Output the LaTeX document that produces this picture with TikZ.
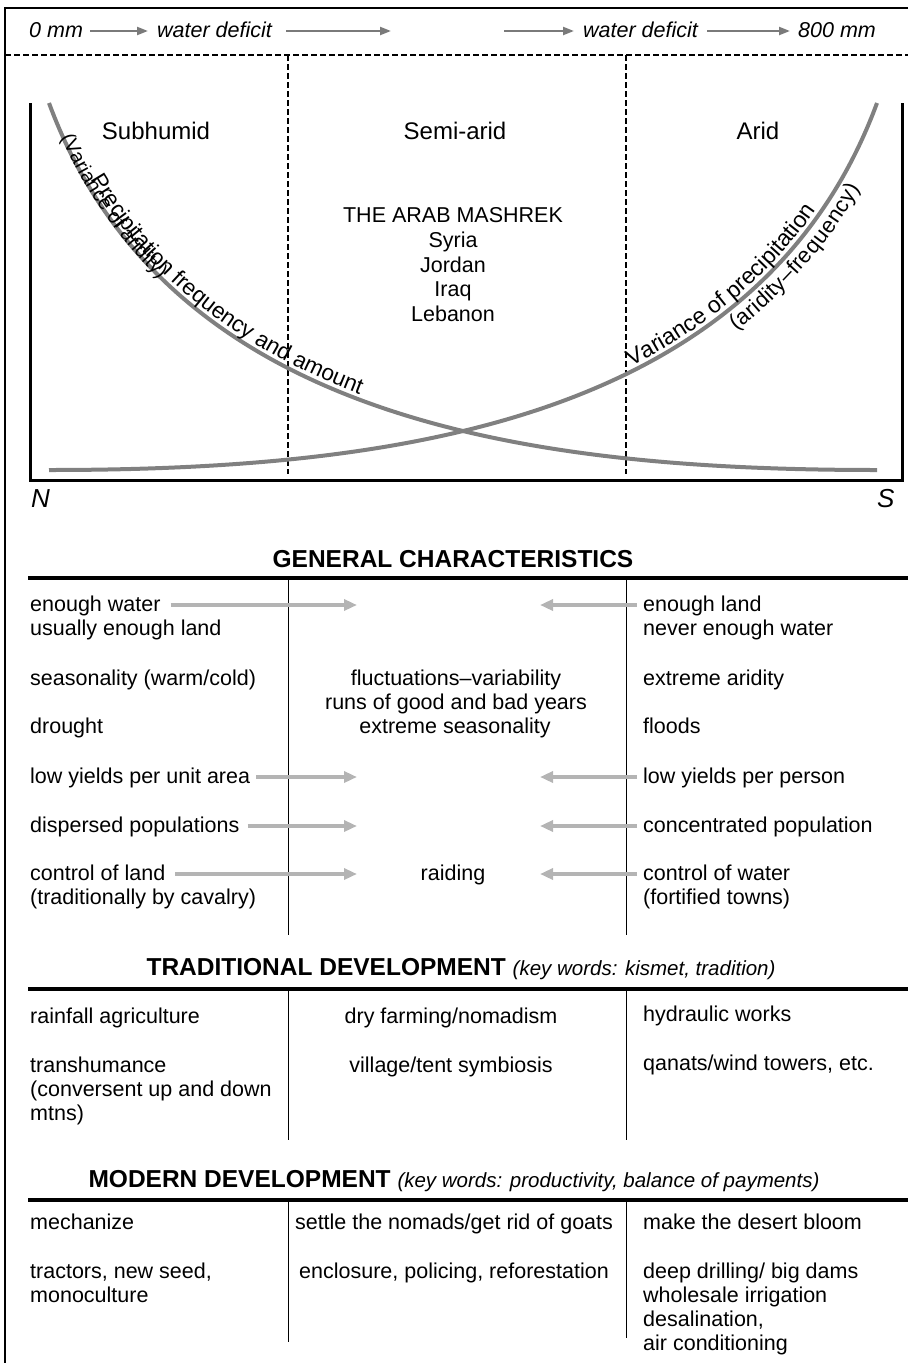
\documentclass[tikz,border=0pt]{standalone}
\usepackage{fontspec}
\setmainfont{Liberation Sans}
\usetikzlibrary{arrows.meta,decorations.text}
\definecolor{curvegray}{HTML}{808080}
\definecolor{arrgray}{HTML}{B4B4B4}
\definecolor{topgray}{HTML}{7A7A7A}
\begin{document}
\begin{tikzpicture}[x=1pt,y=-1pt,
  txt/.style={font=\fontsize{21.5}{25}\selectfont, inner sep=0pt, text height=16pt, text depth=4pt},
  lft/.style={txt, anchor=west},
  ctr/.style={txt, anchor=center},
  zone/.style={font=\fontsize{24}{28}\selectfont, inner sep=0pt, anchor=center},
  mash/.style={font=\fontsize{21.5}{25}\selectfont, inner sep=0pt, text height=16pt, text depth=4pt, anchor=center},
  toptxt/.style={font=\fontsize{21.5}{25}\selectfont\itshape, inner sep=0pt, text height=16pt, text depth=4pt, anchor=west},
  ns/.style={font=\fontsize{26}{28}\selectfont\itshape, inner sep=0pt, anchor=west},
  hdr/.style={inner sep=0pt, anchor=center, text height=18pt, text depth=5pt},
  toparrow/.style={draw=topgray, line width=2.2pt, -{Triangle[length=11pt,width=8pt]}},
  garrow/.style={draw=arrgray, line width=4.5pt, -{Triangle[length=13pt,width=11pt]}},
  dashln/.style={line width=1.8pt, dash pattern=on 6pt off 3pt},
  boxln/.style={line width=3pt},
  hdrln/.style={line width=3.5pt},
  colln/.style={line width=1pt},
  crv/.style={draw=curvegray, line width=4pt},
]
\useasboundingbox (0,0) rectangle (908,1363);
% outer frame
\draw[line width=1.5pt] (908,8) -- (5,8) -- (5,1363);

% top row
\node[toptxt] (z0) at (29,31) {0 mm};
\node[toptxt] (wd1) at (157,31) {water deficit};
\coordinate (a2e) at (391,31);
\coordinate (a3s) at (504,31);
\node[toptxt] (wd2) at (583,31) {water deficit};
\node[toptxt] (z8) at (798,31) {800 mm};
\draw[toparrow] ([xshift=7pt]z0.east) -- ([xshift=-9pt]wd1.west);
\draw[toparrow] ([xshift=14pt]wd1.east) -- (a2e);
\draw[toparrow] (a3s) -- ([xshift=-9pt]wd2.west);
\draw[toparrow] ([xshift=9pt]wd2.east) -- ([xshift=-8pt]z8.west);

% dashed lines
\draw[dashln] (5,55) -- (908,55);
\draw[dashln] (288,55) -- (288,474);
\draw[dashln] (626,55) -- (626,474);

% chart box
\draw[boxln] (30,103) -- (30,480) -- (902,480) -- (902,103);

% curves
\draw[crv] (49,103) .. controls (166,420) and (526,470) .. (877,470);
\draw[crv] (49,470) .. controls (400,470) and (760,420) .. (877,103);
\path[decorate, decoration={text along path, text={|\fontsize{22.5}{22.5}\selectfont|Precipitation frequency and amount}, text align={left indent=88pt}, raise=5pt}]
  (49,103) .. controls (166,420) and (526,470) .. (877,470);
\path[decorate, decoration={text along path, text={|\fontsize{20}{20}\selectfont|(Variance of aridity)}, text align={left indent=36pt}, raise=-2pt}]
  (49,103) .. controls (166,420) and (526,470) .. (877,470);
\path[decorate, decoration={text along path, text={|\fontsize{23}{23}\selectfont|Variance of precipitation}, text align={left indent=598pt}, raise=5pt}]
  (49,470) .. controls (400,470) and (760,420) .. (877,103);
\path[decorate, decoration={text along path, text={|\fontsize{22}{22}\selectfont|(aridity–frequency)}, text align={left indent=704pt}, raise=-21pt}]
  (49,470) .. controls (400,470) and (760,420) .. (877,103);

% zone labels
\node[zone] (sub) at (156,131) {Subhumid};
\node[zone] (semi) at (455,131) {Semi-arid};
\node[zone] (arid) at (758,131) {Arid};
\node[mash] (m1) at (453,216) {THE ARAB MASHREK};
\node[mash] (m2) at (453,241) {Syria};
\node[mash] (m3) at (453,266) {Jordan};
\node[mash] (m4) at (453,290) {Iraq};
\node[mash] (m5) at (453,315) {Lebanon};
\node[ns] (N) at (31,499) {N};
\node[ns] (S) at (877,499) {S};

% GENERAL CHARACTERISTICS
\node[hdr] (h1) at (453,561) {\fontsize{24.5}{28}\selectfont\bfseries GENERAL CHARACTERISTICS};
\draw[hdrln] (28,578) -- (908,578);
\draw[colln] (288,578) -- (288,935);
\draw[colln] (626,578) -- (626,935);

\node[lft] (l1) at (30,605) {enough water};
\node[lft] (l2) at (30,629) {usually enough land};
\node[lft] (l3) at (30,679) {seasonality (warm/cold)};
\node[lft] (l4) at (30,727) {drought};
\node[lft] (l5) at (30,777) {low yields per unit area};
\node[lft] (l6) at (30,826) {dispersed populations};
\node[lft] (l7) at (30,874) {control of land};
\node[lft] (l8) at (30,898) {(traditionally by cavalry)};

\node[ctr] (c1) at (456,679) {fluctuations--variability};
\node[ctr] (c2) at (456,703) {runs of good and bad years};
\node[ctr] (c3) at (455,727) {extreme seasonality};
\node[ctr] (c4) at (453,874) {raiding};

\node[lft] (r1) at (643,605) {enough land};
\node[lft] (r2) at (643,629) {never enough water};
\node[lft] (r3) at (643,679) {extreme aridity};
\node[lft] (r4) at (643,727) {floods};
\node[lft] (r5) at (643,777) {low yields per person};
\node[lft] (r6) at (643,826) {concentrated population};
\node[lft] (r7) at (643,874) {control of water};
\node[lft] (r8) at (643,898) {(fortified towns)};

\coordinate (tl1) at (357,605);
\coordinate (tl5) at (357,777);
\coordinate (tl6) at (357,826);
\coordinate (tl7) at (357,874);
\coordinate (tr1) at (540,605);
\coordinate (tr5) at (540,777);
\coordinate (tr6) at (540,826);
\coordinate (tr7) at (540,874);
\draw[garrow] ([xshift=10pt]l1.east) -- (tl1);
\draw[garrow] ([xshift=6pt]l5.east) -- (tl5);
\draw[garrow] ([xshift=8pt]l6.east) -- (tl6);
\draw[garrow] ([xshift=10pt]l7.east) -- (tl7);
\draw[garrow] ([xshift=-6pt]r1.west) -- (tr1);
\draw[garrow] ([xshift=-6pt]r5.west) -- (tr5);
\draw[garrow] ([xshift=-6pt]r6.west) -- (tr6);
\draw[garrow] ([xshift=-6pt]r7.west) -- (tr7);

% TRADITIONAL DEVELOPMENT
\node[hdr] (h2) at (461,969) {\fontsize{24.5}{28}\selectfont\bfseries TRADITIONAL DEVELOPMENT \fontsize{20.5}{24}\selectfont\mdseries\itshape (key words: kismet, tradition)};
\draw[hdrln] (28,989) -- (908,989);
\draw[colln] (288,989) -- (288,1140);
\draw[colln] (626,989) -- (626,1140);

\node[lft] (t1) at (30,1017) {rainfall agriculture};
\node[lft] (t2) at (30,1066) {transhumance};
\node[lft] (t3) at (30,1090) {(conversent up and down};
\node[lft] (t4) at (30,1114) {mtns)};
\node[ctr] (t5) at (451,1017) {dry farming/nomadism};
\node[ctr] (t6) at (451,1066) {village/tent symbiosis};
\node[lft] (t7) at (643,1015) {hydraulic works};
\node[lft] (t8) at (643,1064) {qanats/wind towers, etc.};

% MODERN DEVELOPMENT
\node[hdr] (h3) at (454,1181) {\fontsize{24.5}{28}\selectfont\bfseries MODERN DEVELOPMENT \fontsize{20.5}{24}\selectfont\mdseries\itshape (key words: productivity, balance of payments)};
\draw[hdrln] (28,1200) -- (908,1200);
\draw[colln] (288,1200) -- (288,1342);
\draw[colln] (626,1200) -- (626,1338);

\node[lft] (d1) at (30,1223) {mechanize};
\node[lft] (d2) at (30,1272) {tractors, new seed,};
\node[lft] (d3) at (30,1296) {monoculture};
\node[ctr] (d4) at (454,1223) {settle the nomads/get rid of goats};
\node[ctr] (d5) at (454,1272) {enclosure, policing, reforestation};
\node[lft] (d6) at (643,1223) {make the desert bloom};
\node[lft] (d7) at (643,1272) {deep drilling/ big dams};
\node[lft] (d8) at (643,1296) {wholesale irrigation};
\node[lft] (d9) at (643,1320) {desalination,};
\node[lft] (d10) at (643,1344) {air conditioning};
\end{tikzpicture}
\end{document}
